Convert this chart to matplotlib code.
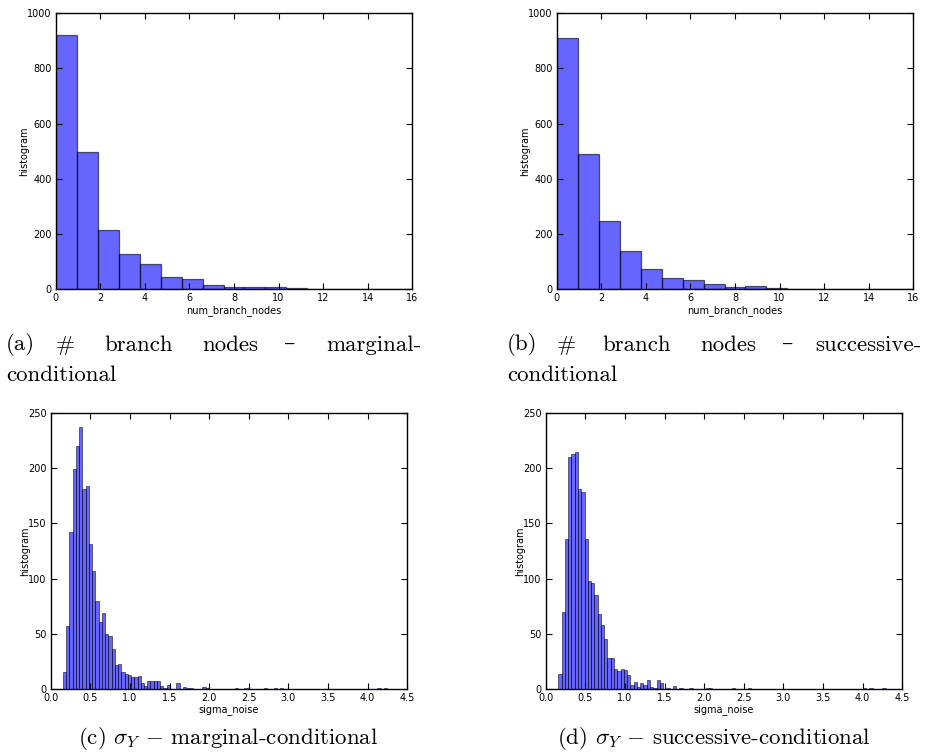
import numpy as np
import matplotlib
matplotlib.use('Agg')
import matplotlib.pyplot as plt

plt.rcParams['mathtext.fontset'] = 'cm'

# histogram counts
branch_edges = np.linspace(0, 16, 18)
branch_marginal = [921, 496, 215, 128, 91, 43, 36, 14, 7, 8, 10, 6, 1, 1, 1, 0, 1]
branch_successive = [912, 489, 246, 140, 74, 40, 34, 21, 10, 12, 6, 2, 0, 1, 1, 1, 1]

sigma_edges_marginal = np.linspace(0.155, 4.245, 101)
sigma_marginal = np.zeros(100)
sigma_marginal[:45] = [15, 57, 142, 199, 220, 237, 181, 184, 131, 107,
                       80, 61, 69, 50, 48, 36, 22, 23, 15, 14,
                       13, 11, 11, 12, 5, 3, 7, 7, 7, 7,
                       3, 1, 4, 0, 0, 5, 0, 2, 1, 1,
                       0, 0, 0, 2, 1]
sigma_marginal[[53, 56, 62, 65, 67, 97, 99]] = 1

sigma_edges_successive = np.linspace(0.16, 4.29, 101)
sigma_successive = np.zeros(100)
sigma_successive[:36] = [14, 70, 136, 210, 213, 215, 181, 178, 136, 98,
                         96, 85, 68, 58, 45, 28, 28, 18, 16, 18,
                         17, 13, 4, 6, 2, 5, 4, 8, 2, 1,
                         8, 5, 0, 1, 0, 3]
sigma_successive[[37, 40, 45, 46, 53, 58, 93, 95, 99]] = 1

fig = plt.figure(figsize=(9.3, 7.55), dpi=100)
W, H = 930.0, 755.0


def make_axes(left, top, right, bottom):
    return fig.add_axes([left / W, 1 - bottom / H, (right - left) / W, (bottom - top) / H])


def style(ax, xlabel):
    ax.tick_params(direction='in', top=True, right=True, length=4, width=0.8,
                   labelsize=7, pad=3, color='black')
    ax.set_xlabel(xlabel, fontsize=7, labelpad=1)
    ax.set_ylabel('histogram', fontsize=7, labelpad=-1.5)
    for sp in ax.spines.values():
        sp.set_linewidth(1.0)


bar_kw = dict(color='blue', alpha=0.6, edgecolor='black')

ax_a = make_axes(55.7, 13.3, 412.3, 289.3)
ax_b = make_axes(556.7, 13.3, 913.3, 289.3)
for ax, counts in [(ax_a, branch_marginal), (ax_b, branch_successive)]:
    ax.hist(branch_edges[:-1], bins=branch_edges, weights=counts, linewidth=0.9, **bar_kw)
    ax.set_xlim(0, 16)
    ax.set_ylim(0, 1000)
    ax.set_xticks(np.arange(0, 17, 2))
    ax.set_yticks(np.arange(0, 1001, 200))
    style(ax, 'num_branch_nodes')

ax_c = make_axes(50.7, 413, 407.3, 689)
ax_d = make_axes(545.7, 413, 902.3, 689)
for ax, edges, counts in [(ax_c, sigma_edges_marginal, sigma_marginal),
                          (ax_d, sigma_edges_successive, sigma_successive)]:
    ax.hist(edges[:-1], bins=edges, weights=counts, linewidth=0.6, **bar_kw)
    ax.set_xlim(0, 4.5)
    ax.set_ylim(0, 250)
    ax.set_xticks(np.arange(0, 4.51, 0.5))
    ax.set_yticks(np.arange(0, 251, 50))
    ax.xaxis.set_major_formatter(matplotlib.ticker.FormatStrFormatter('%.1f'))
    style(ax, 'sigma_noise')

# captions, justified like the LaTeX subfigure text
cap_font = dict(family=['cmr10', 'DejaVu Serif'], fontsize=16.5, va='center', ha='left')
words_a = [('(a)', 6), ('#', 56), ('branch', 104), ('nodes', 202), ('\u2013', 284), ('marginal-', 326)]
words_b = [('(b)', 507), ('#', 557), ('branch', 602), ('nodes', 700), ('\u2013', 782), ('successive-', 815)]
for words in (words_a, words_b):
    for w, x in words:
        fig.text(x / W, 1 - 345 / H, w, **cap_font)
fig.text(6 / W, 1 - 375 / H, 'conditional', **cap_font)
fig.text(507 / W, 1 - 375 / H, 'conditional', **cap_font)

fig.text(228 / W, 1 - 738 / H, r'(c) $\sigma_Y$ $-$ marginal-conditional',
         family='cmr10', fontsize=16.5, va='center', ha='center')
fig.text(714 / W, 1 - 738 / H, r'(d) $\sigma_Y$ $-$ successive-conditional',
         family='cmr10', fontsize=16.5, va='center', ha='center')

fig.savefig('out.png', dpi=100)
